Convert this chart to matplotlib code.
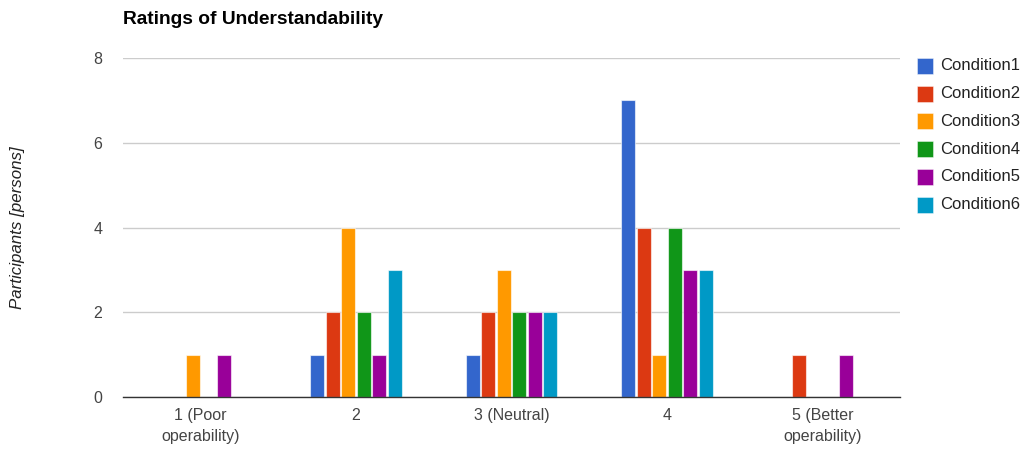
import matplotlib
matplotlib.use("Agg")
import matplotlib.pyplot as plt
from matplotlib.patches import Rectangle
import numpy as np

plt.rcParams["font.family"] = ["Liberation Sans", "DejaVu Sans"]

categories = ["1 (Poor\noperability)", "2", "3 (Neutral)", "4", "5 (Better\noperability)"]
series_names = ["Condition1", "Condition2", "Condition3", "Condition4", "Condition5", "Condition6"]
condition1 = [0, 1, 1, 7, 0]
condition2 = [0, 2, 2, 4, 1]
condition3 = [1, 4, 3, 1, 0]
condition4 = [0, 2, 2, 4, 0]
condition5 = [1, 1, 2, 3, 1]
condition6 = [0, 3, 2, 3, 0]
series_values = [condition1, condition2, condition3, condition4, condition5, condition6]
colors = ["#3366cc", "#dc3912", "#ff9900", "#109618", "#990099", "#0099c6"]
y_ticks = [0, 2, 4, 6, 8]

W, H = 1027, 453
fig = plt.figure(figsize=(W / 100, H / 100), dpi=100)
ax = fig.add_axes([123 / W, 1 - 397 / H, (900 - 123) / W, (397 - 58) / H])

x = np.arange(len(categories))
step = 0.1
bar_w = 0.09
n = len(series_values)
for i, (vals, col) in enumerate(zip(series_values, colors)):
    ax.bar(x + (i - (n - 1) / 2) * step, vals, width=bar_w, color=col,
           edgecolor=(1, 1, 1, 0.6), linewidth=0.8, zorder=3)

ax.set_xlim(-0.5, len(categories) - 0.5)
ax.set_ylim(0, 8)
ax.set_yticks(y_ticks)
ax.set_yticklabels([str(t) for t in y_ticks])
ax.set_xticks(x)
ax.set_xticklabels(categories, linespacing=1.5)
ax.tick_params(axis="both", length=0, colors="#444444", labelsize=11.5)
ax.tick_params(axis="y", pad=15)
ax.tick_params(axis="x", pad=8)
ax.grid(axis="y", color="#cccccc", linewidth=1, zorder=0)
for side in ["top", "right", "left"]:
    ax.spines[side].set_visible(False)
ax.spines["bottom"].set_color("#333333")
ax.spines["bottom"].set_linewidth(1)
ax.spines["bottom"].set_zorder(4)

fig.text(123 / W, 1 - 20 / H, "Ratings of Understandability", fontsize=13.8,
         fontweight="bold", ha="left", va="center", color="#000000")
fig.text(18 / W, 1 - 228 / H, "Participants [persons]", fontsize=12.2,
         style="italic", rotation=90, ha="center", va="center", color="#222222")

# legend on the right
for i, (name, col) in enumerate(zip(series_names, colors)):
    yc = 66 + i * 27.7
    fig.add_artist(Rectangle((917 / W, 1 - (yc + 8) / H), 16 / W, 16 / H,
                             transform=fig.transFigure, facecolor=col,
                             edgecolor=(1, 1, 1, 0.5), linewidth=0.6))
    fig.text(940 / W, 1 - yc / H, name, fontsize=12, ha="left", va="center",
             color="#222222")

fig.savefig("out.png", dpi=100, facecolor="white")
